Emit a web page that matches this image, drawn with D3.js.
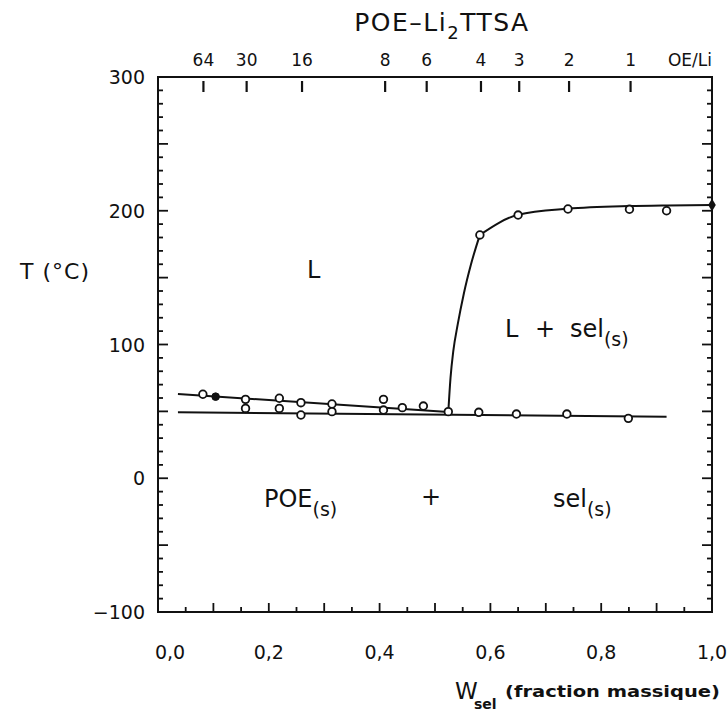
<!DOCTYPE html>
<html>
<head>
<meta charset="utf-8">
<script src="https://cdn.jsdelivr.net/npm/d3@7"></script>
<style>
  html,body{margin:0;padding:0;background:#fff;}
  svg{display:block;}
  text{font-family:"DejaVu Sans","Liberation Sans",Arial,sans-serif;fill:#111;}
</style>
</head>
<body>
<svg id="chart" width="728" height="713"></svg>
<script>
// ---- data ----
const yTicksMajor = [-100, 0, 100, 200, 300];
const yTickLabels = ["\u2212100", "0", "100", "200", "300"];
const xTicksMajor = [0, 0.2, 0.4, 0.6, 0.8, 1.0];
const xTickLabels = ["0,0", "0,2", "0,4", "0,6", "0,8", "1,0"];

const oeLabels = ["64", "30", "16", "8", "6", "4", "3", "2", "1"];
const oeW      = [0.082, 0.160, 0.260, 0.410, 0.485, 0.583, 0.652, 0.742, 0.853];

// liquidus (POE side) measurements, open circles
const wUpper = [0.081, 0.158, 0.219, 0.258, 0.314, 0.407, 0.441, 0.479];
const tUpper = [62.8, 59.0, 59.8, 56.5, 55.5, 59.0, 52.8, 54.0];
// filled point
const wFilled = [0.104];
const tFilled = [61.0];
// eutectic measurements
const wEut = [0.158, 0.219, 0.258, 0.314, 0.407, 0.524, 0.579, 0.647, 0.738, 0.849];
const tEut = [52.2, 52.2, 47.3, 49.8, 51.0, 49.8, 49.3, 48.0, 48.0, 44.8];
// liquidus (salt side) measurements
const wHigh = [0.581, 0.650, 0.740, 0.851, 0.918];
const tHigh = [181.9, 196.8, 201.3, 201.1, 200.0];
// pure salt (diamond)
const wPure = [1.0];
const tPure = [204.3];

// drawn curves
const liqLowW = [0.036, 0.524];
const liqLowT = [63.0, 49.5];
const eutLineW = [0.036, 0.918];
const eutLineT = [49.3, 46.0];
const liqSteepW = [0.524, 0.528, 0.533, 0.541, 0.552, 0.565, 0.581];
const liqSteepT = [49.5, 75, 95, 115, 138, 160, 182];
const liqFlatW = [0.581, 0.650, 0.740, 0.850, 0.920, 1.0];
const liqFlatT = [182, 197, 201.5, 203.5, 204.0, 204.3];

// ---- layout ----
const svg = d3.select("#chart");
svg.append("rect").attr("width", 728).attr("height", 713).attr("fill", "#fff");

const mLeft = 158, mRight = 712, mTop = 77, mBottom = 612;
const x = d3.scaleLinear().domain([0, 1]).range([mLeft, mRight]);
const y = d3.scaleLinear().domain([-100, 300]).range([mBottom, mTop]);

const g = svg.append("g");

// frame
g.append("rect").attr("x", mLeft).attr("y", mTop)
  .attr("width", mRight - mLeft).attr("height", mBottom - mTop)
  .attr("fill", "none").attr("stroke", "#111").attr("stroke-width", 2);

// left & right ticks (every 10, longer at 50s)
d3.range(-100, 301, 10).forEach(v => {
  const len = (v % 50 === 0) ? 10 : 5;
  g.append("line").attr("x1", mLeft).attr("x2", mLeft + len)
    .attr("y1", y(v)).attr("y2", y(v)).attr("stroke", "#111").attr("stroke-width", 1.8);
  g.append("line").attr("x1", mRight + 1).attr("x2", mRight - len)
    .attr("y1", y(v)).attr("y2", y(v)).attr("stroke", "#111").attr("stroke-width", 1.8);
});
// bottom ticks every 0.05
d3.range(0, 21).forEach(i => {
  const v = i / 20;
  const len = (i % 2 === 0) ? 9 : 5;
  g.append("line").attr("x1", x(v)).attr("x2", x(v))
    .attr("y1", mBottom).attr("y2", mBottom - len).attr("stroke", "#111").attr("stroke-width", 1.8);
});
// top OE/Li ticks
oeW.forEach(w => {
  g.append("line").attr("x1", x(w)).attr("x2", x(w))
    .attr("y1", mTop + 4).attr("y2", mTop + 15).attr("stroke", "#111").attr("stroke-width", 2.2);
});

// tick labels
yTicksMajor.forEach((v, i) => {
  g.append("text").attr("x", 145).attr("y", y(v) + 7)
    .attr("text-anchor", "end").attr("font-size", 19).text(yTickLabels[i]);
});
xTicksMajor.forEach((v, i) => {
  g.append("text").attr("x", x(v) + (i === 0 ? 12 : 0)).attr("y", 659)
    .attr("text-anchor", "middle").attr("font-size", 19).text(xTickLabels[i]);
});
oeLabels.forEach((s, i) => {
  g.append("text").attr("x", x(oeW[i])).attr("y", 66)
    .attr("text-anchor", "middle").attr("font-size", 17).text(s);
});
g.append("text").attr("x", 712).attr("y", 66).attr("text-anchor", "end")
  .attr("font-size", 17).text("OE/Li");

// title
const title = svg.append("text").attr("x", 442).attr("y", 31)
  .attr("text-anchor", "middle").attr("font-size", 25).attr("letter-spacing", 1.5);
title.append("tspan").text("POE\u2013Li");
title.append("tspan").attr("dy", 8).attr("font-size", 18).text("2");
title.append("tspan").attr("dy", -8).text("TTSA");

// axis titles
svg.append("text").attr("x", 20).attr("y", 279).attr("font-size", 22)
  .attr("letter-spacing", 1).text("T (\u00B0C)");
svg.append("text").attr("x", 455).attr("y", 699).attr("font-size", 23).text("W");
svg.append("text").attr("x", 474).attr("y", 709).attr("font-size", 14)
  .attr("font-weight", "bold").text("sel");
svg.append("text").attr("x", 505).attr("y", 697).attr("font-size", 15)
  .attr("font-weight", "bold").attr("textLength", 215).attr("lengthAdjust", "spacingAndGlyphs")
  .text("(fraction massique)");

// curves
const drawLine = (ws, ts, curve) => {
  const gen = d3.line().x(d => x(d[0])).y(d => y(d[1]));
  if (curve) gen.curve(curve);
  g.append("path").attr("d", gen(ws.map((w, i) => [w, ts[i]])))
    .attr("fill", "none").attr("stroke", "#111").attr("stroke-width", 2);
};
drawLine(liqLowW, liqLowT);
drawLine(eutLineW, eutLineT);
drawLine(liqSteepW, liqSteepT, d3.curveMonotoneX);
drawLine(liqFlatW, liqFlatT, d3.curveMonotoneX);

// markers
const openPts = [].concat(
  wUpper.map((w, i) => [w, tUpper[i]]),
  wEut.map((w, i) => [w, tEut[i]]),
  wHigh.map((w, i) => [w, tHigh[i]])
);
g.selectAll("circle.open").data(openPts).enter().append("circle")
  .attr("cx", d => x(d[0])).attr("cy", d => y(d[1])).attr("r", 3.8)
  .attr("fill", "#fff").attr("stroke", "#111").attr("stroke-width", 1.8);
g.selectAll("circle.filled").data(wFilled.map((w, i) => [w, tFilled[i]])).enter().append("circle")
  .attr("cx", d => x(d[0])).attr("cy", d => y(d[1])).attr("r", 3.8)
  .attr("fill", "#111").attr("stroke", "#111").attr("stroke-width", 1);
g.selectAll("path.diamond").data(wPure.map((w, i) => [w, tPure[i]])).enter().append("path")
  .attr("d", d3.symbol().type(d3.symbolDiamond).size(50))
  .attr("transform", d => `translate(${x(d[0])},${y(d[1])})`).attr("fill", "#111");

// region labels
const lab = (tx, ty, main, sub) => {
  const t = svg.append("text").attr("x", tx).attr("y", ty).attr("font-size", 24);
  t.append("tspan").text(main);
  if (sub) t.append("tspan").attr("dy", 9).attr("font-size", 19).text(sub);
};
lab(307, 278, "L", null);
lab(505, 337, "L", null);
lab(535, 337, "+", null);
lab(570, 337, "sel", "(s)");
lab(264, 507, "POE", "(s)");
lab(421, 505, "+", null);
lab(553, 507, "sel", "(s)");
</script>
</body>
</html>
